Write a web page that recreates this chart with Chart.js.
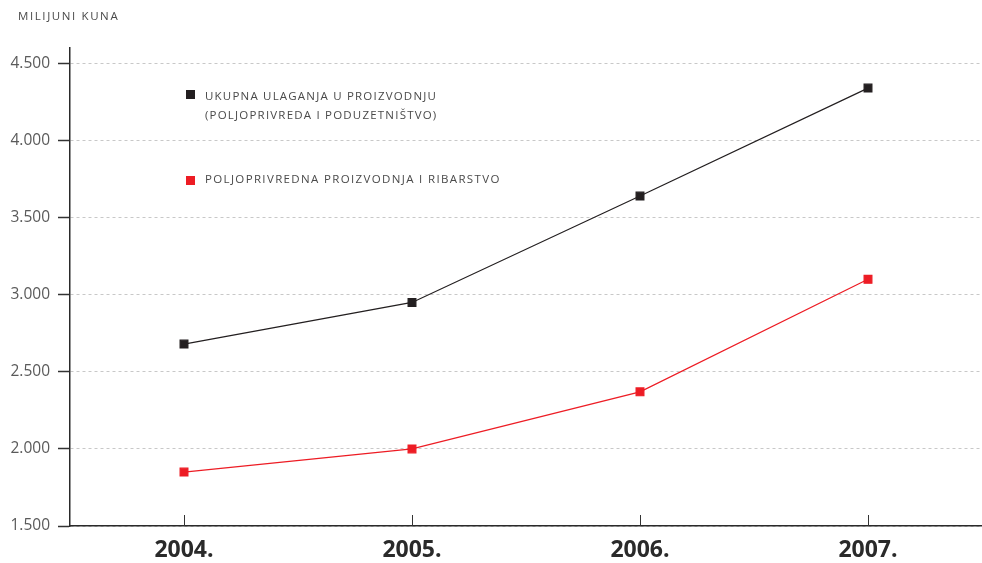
<!DOCTYPE html>
<html>
<head>
<meta charset="utf-8">
<script src="https://cdn.jsdelivr.net/npm/chart.js@4"></script>
<style>
  html, body { margin: 0; padding: 0; background: #fff; }
  #wrap { position: relative; width: 982px; height: 563px; }
  canvas { position: absolute; left: 0; top: 0; }
  .txt { position: absolute; font-family: "Open Sans", sans-serif; color: #4a4a4a; font-size: 11.5px; letter-spacing: 1.2px; white-space: nowrap; }
  .sw { position: absolute; width: 9px; height: 9px; }
</style>
</head>
<body>
<div id="wrap">
  <canvas id="c" width="982" height="563"></canvas>
  <div class="txt" style="left:18px; top:8px; font-size:11.5px; letter-spacing:1.6px;">MILIJUNI KUNA</div>
  <div class="sw" style="left:186px; top:90px; background:#231f20;"></div>
  <div class="txt" style="left:205px; top:86px; line-height:19px;">UKUPNA ULAGANJA U PROIZVODNJU<br>(POLJOPRIVREDA I PODUZETNIŠTVO)</div>
  <div class="sw" style="left:186px; top:176px; background:#ed1c24;"></div>
  <div class="txt" style="left:205px; top:171px; letter-spacing:1.35px;">POLJOPRIVREDNA PROIZVODNJA I RIBARSTVO</div>
</div>
<script>
const categories = ['2004.', '2005.', '2006.', '2007.'];
const totalInvestment = [2680, 2950, 3640, 4340];
const agricultureFishery = [1850, 2000, 2370, 3100];
const yTickValues = [1500, 2000, 2500, 3000, 3500, 4000, 4500];
const seriesNames = ['UKUPNA ULAGANJA U PROIZVODNJU (POLJOPRIVREDA I PODUZETNIŠTVO)', 'POLJOPRIVREDNA PROIZVODNJA I RIBARSTVO'];

function fmt(v) {
  return String(v).replace(/\B(?=(\d{3})+(?!\d))/g, '.');
}

const innerTicks = {
  id: 'innerTicks',
  afterDraw(chart) {
    const x = chart.scales.x;
    const ctx = chart.ctx;
    ctx.save();
    ctx.strokeStyle = '#333';
    ctx.lineWidth = 1;
    x.ticks.forEach((t, i) => {
      const px = Math.round(x.getPixelForTick(i)) + 0.5;
      ctx.beginPath();
      ctx.moveTo(px, x.top - 11);
      ctx.lineTo(px, x.top);
      ctx.stroke();
    });
    ctx.restore();
  }
};

new Chart(document.getElementById('c'), {
  type: 'line',
  data: {
    labels: categories,
    datasets: [
      {
        label: seriesNames[0],
        data: totalInvestment,
        borderColor: '#231f20',
        backgroundColor: '#231f20',
        borderWidth: 1.2,
        pointStyle: 'rect',
        pointRadius: 5.5,
        pointHoverRadius: 5.5,
        tension: 0
      },
      {
        label: seriesNames[1],
        data: agricultureFishery,
        borderColor: '#ed1c24',
        backgroundColor: '#ed1c24',
        borderWidth: 1.2,
        pointStyle: 'rect',
        pointRadius: 5.5,
        pointHoverRadius: 5.5,
        tension: 0
      }
    ]
  },
  options: {
    responsive: false,
    animation: false,
    layout: { autoPadding: false, padding: { top: 48, right: 0, left: 0, bottom: 0 } },
    plugins: { legend: { display: false }, tooltip: { enabled: false } },
    scales: {
      x: {
        offset: true,
        grid: { display: true, drawOnChartArea: false, drawTicks: false },
        border: { display: true, color: '#2a2a2a', width: 1.5 },
        ticks: {
          padding: 11,
          color: '#2a2a2a',
          font: { family: '"Open Sans", sans-serif', size: 23, weight: 'bold' }
        },
        afterFit(scale) {
          scale.height = 37;
          scale.paddingLeft = 0;
          scale.paddingRight = 0;
        }
      },
      y: {
        min: 1500,
        max: 4600,
        afterBuildTicks(scale) {
          scale.ticks = yTickValues.map(v => ({ value: v }));
        },
        grid: {
          color: '#c8c8c8',
          lineWidth: 1,
          drawTicks: true,
          tickLength: 12,
          tickColor: '#333',
          tickWidth: 1.5,
          tickBorderDash: []
        },
        border: { display: true, color: '#2a2a2a', width: 1.5, dash: [3, 3] },
        ticks: {
          padding: 8,
          color: '#5a5a5a',
          font: { family: '"Open Sans", sans-serif', size: 15.5 },
          callback: v => fmt(v)
        },
        afterFit(scale) { scale.width = 70; }
      }
    }
  },
  plugins: [innerTicks]
});
</script>
</body>
</html>
